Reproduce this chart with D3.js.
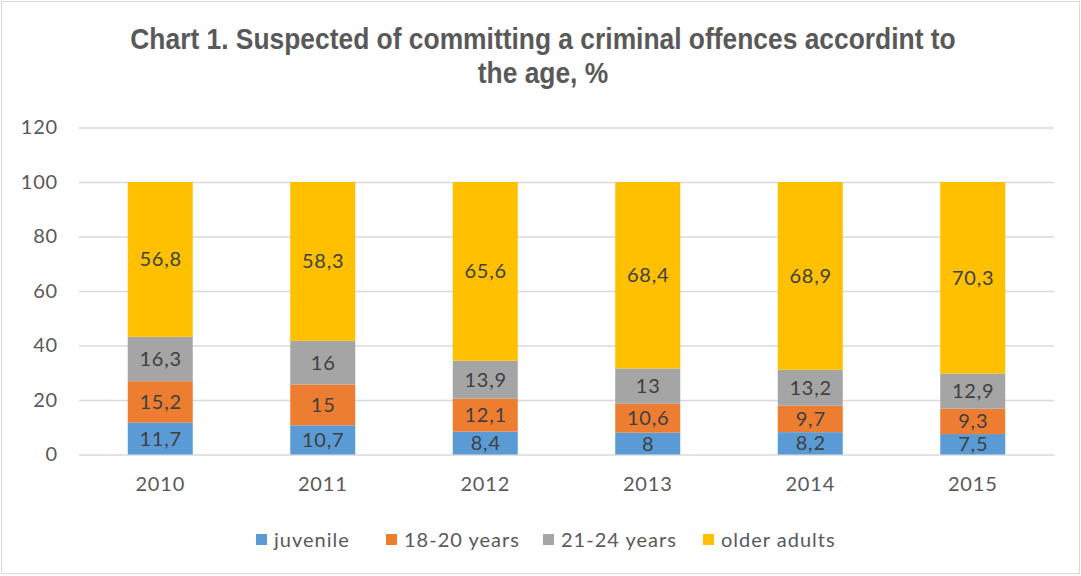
<!DOCTYPE html>
<html>
<head>
<meta charset="utf-8">
<script src="https://cdn.jsdelivr.net/npm/d3@7"></script>
<style>
  body { margin: 0; background: #fff; }
  #chart { width: 1081px; height: 576px; }
</style>
</head>
<body>
<div id="chart"></div>
<script>
// Data
const years = ['2010', '2011', '2012', '2013', '2014', '2015'];
const seriesNames = ['juvenile', '18-20 years', '21-24 years', 'older adults'];
const juvenile = [11.7, 10.7, 8.4, 8, 8.2, 7.5];
const age18to20 = [15.2, 15, 12.1, 10.6, 9.7, 9.3];
const age21to24 = [16.3, 16, 13.9, 13, 13.2, 12.9];
const olderAdults = [56.8, 58.3, 65.6, 68.4, 68.9, 70.3];
const yTicks = [0, 20, 40, 60, 80, 100, 120];
const colors = ['#5B9BD5', '#ED7D31', '#A5A5A5', '#FFC000'];

const W = 1081, H = 576;
const margin = { left: 79, right: 27, top: 127.5, bottom: 121.5 };

const svg = d3.select('#chart')
  .append('svg')
  .attr('width', W)
  .attr('height', H);

// outer border
svg.append('rect')
  .attr('x', 1.5).attr('y', 1.5)
  .attr('width', W - 3).attr('height', H - 4)
  .attr('fill', '#fff')
  .attr('stroke', '#d9d9d9');

// title (narrow bold)
const title = svg.append('text')
  .attr('text-anchor', 'middle')
  .attr('fill', '#595959')
  .attr('transform', 'translate(543,0) scale(0.91,1)')
  .style('font-family', "'Liberation Sans', Arial, sans-serif")
  .style('font-weight', 'bold')
  .style('font-size', '29px');
title.append('tspan').attr('x', 0).attr('y', 49)
  .text('Chart 1. Suspected of committing a criminal offences accordint to');
title.append('tspan').attr('x', 0).attr('y', 83)
  .text('the age, %');

const x = d3.scaleBand()
  .domain(years)
  .range([margin.left, W - margin.right])
  .paddingInner(0.6)
  .paddingOuter(0.3);

const y = d3.scaleLinear()
  .domain([0, 120])
  .range([H - margin.bottom, margin.top]);

const font = "Lato, 'Open Sans', sans-serif";

// gridlines + y labels
const yAxis = svg.append('g')
  .attr('transform', `translate(${margin.left},0)`)
  .call(d3.axisLeft(y).tickValues(yTicks).tickSize(-(W - margin.left - margin.right)).tickPadding(21));
yAxis.select('.domain').remove();
yAxis.selectAll('line').attr('stroke', '#d9d9d9').attr('stroke-width', 1.5);
yAxis.selectAll('text')
  .attr('fill', '#595959')
  .style('font-family', font)
  .style('font-size', '20px')
  .style('letter-spacing', '0.8px');

// x labels
const xAxis = svg.append('g')
  .attr('transform', `translate(0,${y(0)})`)
  .call(d3.axisBottom(x).tickSize(0).tickPadding(22));
xAxis.select('.domain').remove();
xAxis.selectAll('text')
  .attr('fill', '#595959')
  .style('font-family', font)
  .style('font-size', '20px')
  .style('letter-spacing', '0.8px');

// stacked data
const rows = years.map((yr, i) => ({
  year: yr,
  'juvenile': juvenile[i],
  '18-20 years': age18to20[i],
  '21-24 years': age21to24[i],
  'older adults': olderAdults[i]
}));
const stacked = d3.stack().keys(seriesNames)(rows);

const layers = svg.selectAll('g.layer')
  .data(stacked)
  .enter()
  .append('g')
  .attr('class', 'layer')
  .attr('fill', (d, i) => colors[i]);

layers.selectAll('rect')
  .data(d => d)
  .enter()
  .append('rect')
  .attr('x', d => x(d.data.year))
  .attr('y', d => y(d[1]))
  .attr('width', x.bandwidth())
  .attr('height', d => y(d[0]) - y(d[1]));

layers.selectAll('text')
  .data(d => d.map(v => ({ v, key: d.key })))
  .enter()
  .append('text')
  .attr('x', d => x(d.v.data.year) + x.bandwidth() / 2 + 0.5)
  .attr('y', d => (y(d.v[0]) + y(d.v[1])) / 2)
  .attr('dy', '0.35em')
  .attr('text-anchor', 'middle')
  .attr('fill', '#404040')
  .style('font-family', font)
  .style('font-size', '20px')
  .style('letter-spacing', '0.8px')
  .text(d => String(d.v.data[d.key]).replace('.', ','));

// legend
const legendX = [256, 386, 543, 703];
const legend = svg.selectAll('g.legend')
  .data(seriesNames)
  .enter()
  .append('g')
  .attr('class', 'legend')
  .attr('transform', (d, i) => `translate(${legendX[i]},539.5)`);
legend.append('rect')
  .attr('x', 0).attr('y', -5.5)
  .attr('width', 11).attr('height', 11)
  .attr('fill', (d, i) => colors[i]);
legend.append('text')
  .attr('x', 18)
  .attr('dy', '0.35em')
  .attr('fill', '#595959')
  .style('font-family', font)
  .style('font-size', '20px')
  .style('letter-spacing', '1px')
  .text(d => d);
</script>
</body>
</html>
